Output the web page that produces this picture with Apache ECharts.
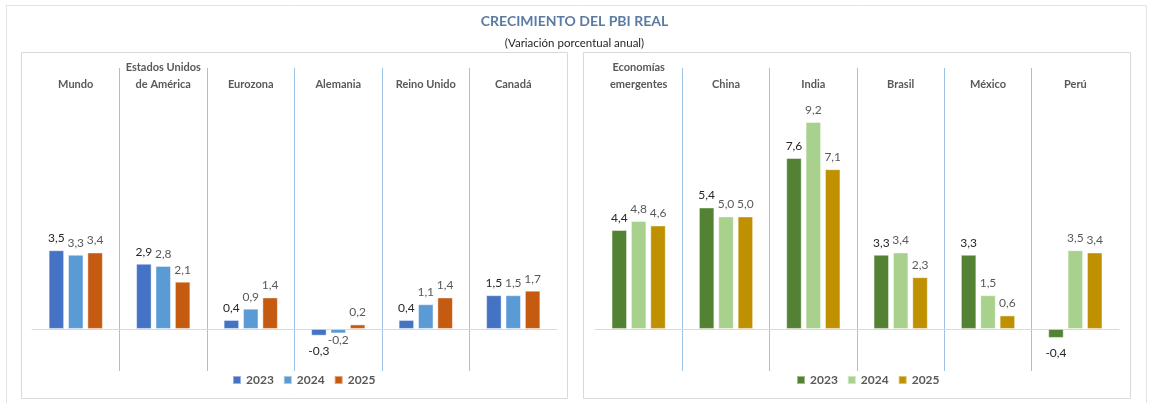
<!DOCTYPE html>
<html>
<head>
<meta charset="utf-8">
<script src="https://cdn.jsdelivr.net/npm/echarts@6/dist/echarts.min.js"></script>
<style>
html,body{margin:0;padding:0;background:#fff;}
#c{width:1149px;height:403px;}
</style>
</head>
<body>
<div id="c"></div>
<script>
// ---- data ----
const leftCategories = ['Mundo', 'Estados Unidos\nde América', 'Eurozona', 'Alemania', 'Reino Unido', 'Canadá'];
const rightCategories = ['Economías\nemergentes', 'China', 'India', 'Brasil', 'México', 'Perú'];
const years = ['2023', '2024', '2025'];
const left2023 = [3.5, 2.9, 0.4, -0.3, 0.4, 1.5];
const left2024 = [3.3, 2.8, 0.9, -0.2, 1.1, 1.5];
const left2025 = [3.4, 2.1, 1.4, 0.2, 1.4, 1.7];
const right2023 = [4.4, 5.4, 7.6, 3.3, 3.3, -0.4];
const right2024 = [4.8, 5.0, 9.2, 3.4, 1.5, 3.5];
const right2025 = [4.6, 5.0, 7.1, 2.3, 0.6, 3.4];

const leftColors = ['#4472c4', '#5b9bd5', '#c55a11'];
const rightColors = ['#548235', '#a9d18e', '#bf9000'];
const labelColors = ['#262626', '#595959', '#595959'];
const negLabelDistance = [9, 1, 1];

const FONT = "Lato, 'Liberation Sans', sans-serif";

const chart = echarts.init(document.getElementById('c'), null, {renderer: 'canvas'});

function fmt(p) { return p.value.toFixed(1).replace('.', ','); }

function mkData(arr, i) {
  return arr.map(v => v < 0 ? {value: v, label: {position: 'bottom', distance: negLabelDistance[i]}} : v);
}

function mkSeries(prefix, arrs, colors, grid) {
  return arrs.map((arr, i) => ({
    name: prefix + years[i],
    type: 'bar',
    xAxisIndex: grid * 2,
    yAxisIndex: grid,
    data: mkData(arr, i),
    barWidth: 15.5,
    barGap: '25%',
    itemStyle: {color: colors[i], borderColor: 'rgba(255,255,255,0.45)', borderWidth: 1},
    label: {
      show: true, position: 'top', distance: 6,
      formatter: fmt, fontFamily: FONT, fontSize: 12, color: labelColors[i]
    },
    emphasis: {disabled: true},
    animation: false
  }));
}

const grids = [
  {left: 32, width: 525, top: 68, height: 303},
  {left: 595, width: 524, top: 68, height: 303}
];

function xAxes(cats, gi) {
  return [
    {
      type: 'category', gridIndex: gi, data: cats, position: 'bottom',
      axisLine: {show: true, onZero: true, lineStyle: {color: '#d9d9d9', width: 1}},
      axisTick: {show: false}, axisLabel: {show: false, interval: 0},
      splitLine: {show: true, interval: 0, showMinLine: false, showMaxLine: false, lineStyle: {color: '#9dc3e6', width: 1}}
    },
    {
      type: 'category', gridIndex: gi, data: cats, position: 'top',
      axisLine: {show: false}, axisTick: {show: false}, splitLine: {show: false},
      axisLabel: {
        show: true, interval: 0, margin: -25, fontFamily: FONT, fontSize: 11,
        fontWeight: 'bold', color: '#595959', lineHeight: 17, align: 'center'
      }
    }
  ];
}

const yAx = gi => ({
  type: 'value', gridIndex: gi, min: -1.87, max: 11.6, show: false,
  splitLine: {show: false}
});

const legendText = {fontFamily: FONT, fontSize: 12, fontWeight: 'bold', color: '#595959'};

const option = {
  backgroundColor: '#ffffff',
  animation: false,
  title: [
    {text: 'CRECIMIENTO DEL PBI REAL', left: 'center', top: 9,
     textStyle: {fontFamily: FONT, fontSize: 14, fontWeight: 'bold', color: '#5b7aa4'}},
    {text: '(Variación porcentual anual)', left: 'center', top: 32,
     textStyle: {fontFamily: FONT, fontSize: 11.5, fontWeight: 'normal', color: '#262626'}}
  ],
  grid: grids,
  xAxis: [...xAxes(leftCategories, 0), ...xAxes(rightCategories, 1)],
  yAxis: [yAx(0), yAx(1)],
  legend: [
    {data: years.map(y => 'L' + y), left: 232, top: 374, padding: 0, itemWidth: 8, itemHeight: 8, itemGap: 9,
     icon: 'rect', formatter: n => n.slice(1), textStyle: legendText, selectedMode: false},
    {data: years.map(y => 'R' + y), left: 796, top: 374, padding: 0, itemWidth: 8, itemHeight: 8, itemGap: 9,
     icon: 'rect', formatter: n => n.slice(1), textStyle: legendText, selectedMode: false}
  ],
  graphic: [
    {type: 'rect', shape: {x: 6.5, y: 5.5, width: 1140, height: 420}, style: {fill: 'none', stroke: '#e3e3e3', lineWidth: 1}, silent: true, z: -10},
    {type: 'rect', shape: {x: 21.5, y: 52.5, width: 546, height: 346}, style: {fill: 'none', stroke: '#d9d9d9', lineWidth: 1}, silent: true, z: -10},
    {type: 'rect', shape: {x: 583.5, y: 52.5, width: 547, height: 346}, style: {fill: 'none', stroke: '#d9d9d9', lineWidth: 1}, silent: true, z: -10}
  ],
  series: [
    ...mkSeries('L', [left2023, left2024, left2025], leftColors, 0),
    ...mkSeries('R', [right2023, right2024, right2025], rightColors, 1)
  ]
};
chart.setOption(option);
</script>
</body>
</html>
